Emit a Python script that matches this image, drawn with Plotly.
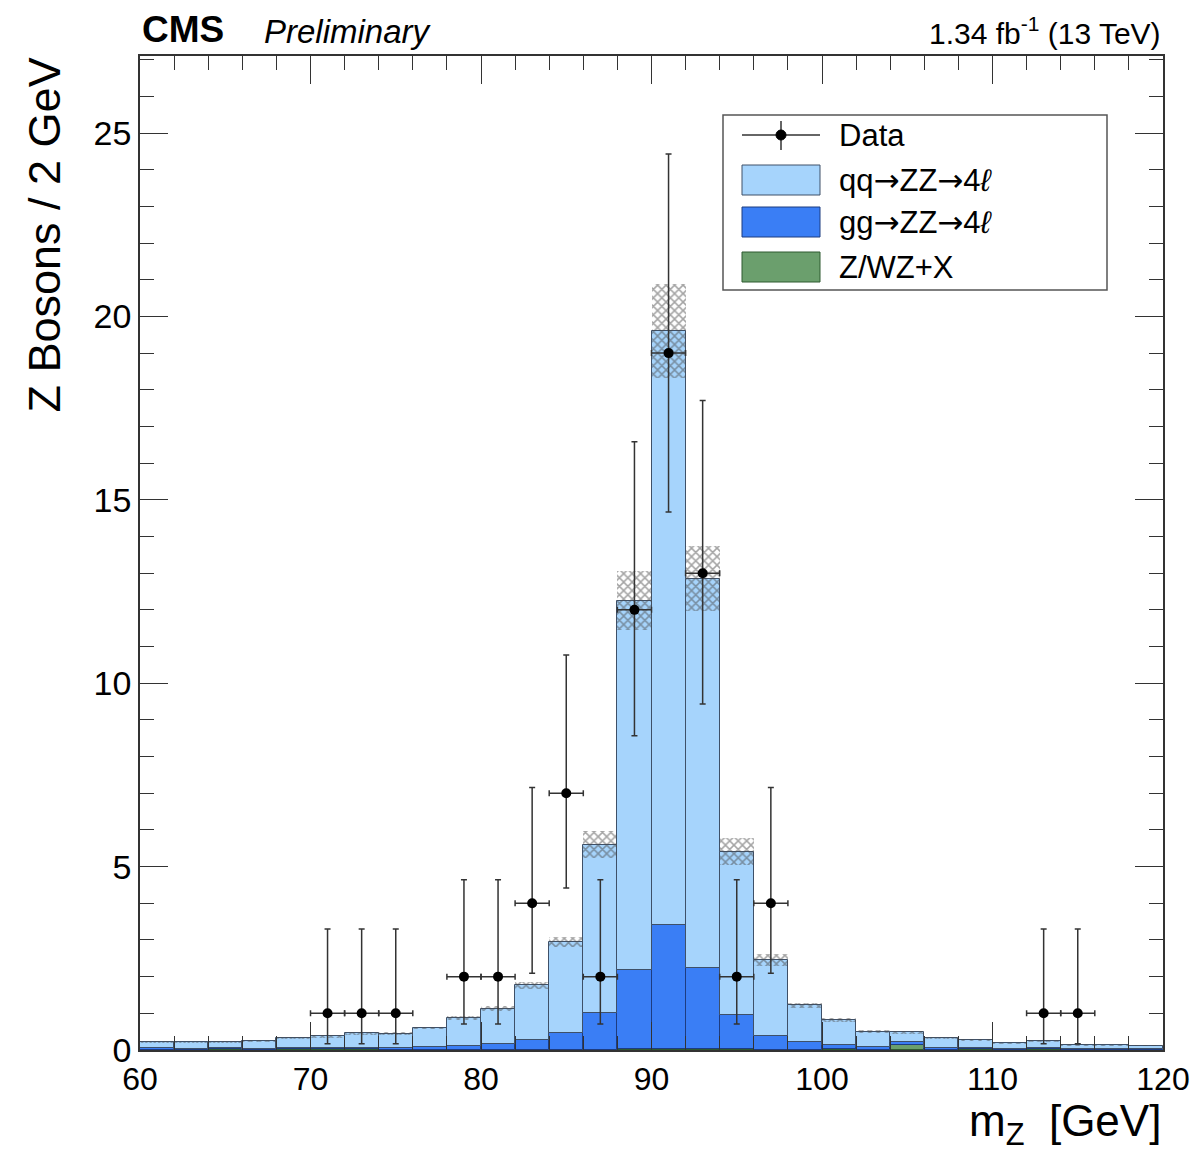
import numpy as np
import plotly.graph_objects as go

# bin centres of the 2 GeV bins (m_Z, GeV)
bin_centres = [61, 63, 65, 67, 69, 71, 73, 75, 77, 79, 81, 83, 85, 87, 89,
               91, 93, 95, 97, 99, 101, 103, 105, 107, 109, 111, 113, 115, 117, 119]

# stack contributions per bin
zx_vals = [0.01, 0.00, 0.02, 0.00, 0.03, 0.03, 0.03, 0.00, 0.01, 0.01, 0.01, 0.01, 0.01, 0.01, 0.02,
           0.02, 0.02, 0.03, 0.01, 0.01, 0.02, 0.01, 0.13, 0.01, 0.02, 0.01, 0.03, 0.01, 0.01, 0.01]
gg_vals = [0.04, 0.04, 0.03, 0.03, 0.02, 0.03, 0.03, 0.05, 0.06, 0.09, 0.16, 0.27, 0.45, 0.99, 2.15,
           3.40, 2.22, 0.93, 0.37, 0.20, 0.12, 0.06, 0.08, 0.04, 0.04, 0.02, 0.02, 0.02, 0.02, 0.02]
qq_vals = [0.17, 0.17, 0.17, 0.21, 0.28, 0.31, 0.40, 0.39, 0.53, 0.77, 0.95, 1.48, 2.49, 4.60, 10.08,
           16.18, 10.61, 4.45, 2.07, 1.01, 0.68, 0.43, 0.27, 0.27, 0.21, 0.15, 0.20, 0.11, 0.10, 0.09]
# half width of the hatched uncertainty band
unc_vals = [0.02, 0.02, 0.02, 0.02, 0.03, 0.03, 0.04, 0.04, 0.04, 0.05, 0.07, 0.09, 0.14, 0.37, 0.80,
            1.28, 0.88, 0.36, 0.16, 0.07, 0.05, 0.04, 0.04, 0.03, 0.03, 0.02, 0.02, 0.02, 0.02, 0.02]

# data points
data_x = [71, 73, 75, 79, 81, 83, 85, 87, 89, 91, 93, 95, 97, 113, 115]
data_y = [1, 1, 1, 2, 2, 4, 7, 2, 12, 19, 13, 2, 4, 1, 1]
data_err_up = [2.30, 2.30, 2.30, 2.64, 2.64, 3.16, 3.77, 2.64, 4.58, 5.43, 4.71, 2.64, 3.16, 2.30, 2.30]
data_err_lo = [0.83, 0.83, 0.83, 1.29, 1.29, 1.91, 2.58, 1.29, 3.43, 4.33, 3.57, 1.29, 1.91, 0.83, 0.83]

C_QQ = "#a6d4fc"
C_GG = "#3a7ef5"
C_ZX = "#6b9f6d"
FONT = "Liberation Sans"

zx = np.array(zx_vals)
gg = np.array(gg_vals)
qq = np.array(qq_vals)
unc = np.array(unc_vals)
total = zx + gg + qq

fig = go.Figure()

fig.add_trace(go.Bar(x=bin_centres, y=zx, base=0, width=2,
                     marker=dict(color=C_ZX, line=dict(color="#2f5a30", width=1))))
fig.add_trace(go.Bar(x=bin_centres, y=gg, base=zx, width=2,
                     marker=dict(color=C_GG, line=dict(color="#1d3c80", width=1))))
fig.add_trace(go.Bar(x=bin_centres, y=qq, base=zx + gg, width=2,
                     marker=dict(color=C_QQ, line=dict(color="#3e5068", width=1))))
# hatched uncertainty on the total
fig.add_trace(go.Bar(x=bin_centres, y=2 * unc, base=total - unc, width=2,
                     marker=dict(color="rgba(0,0,0,0)", line=dict(width=0),
                                 pattern=dict(shape="x", fgcolor="#4a4a4a", size=6,
                                              solidity=0.45, fillmode="overlay"))))

fig.add_trace(go.Scatter(
    x=data_x, y=data_y, mode="markers",
    marker=dict(color="black", size=10),
    error_y=dict(type="data", symmetric=False, array=data_err_up, arrayminus=data_err_lo,
                 color="#333333", thickness=1.5, width=3),
    error_x=dict(type="constant", value=1, color="#333333", thickness=1.5, width=3),
))

# manual ROOT-style legend (positions in window pixels -> paper coords)
def px(X):
    return (X - 140) / 1023


def py(Y):
    return (1050 - Y) / 994


ARROW = "<span style='font-family:DejaVu Sans'>→</span>"
ELL = "<i>ℓ</i>"

shapes = [dict(type="rect", xref="paper", yref="paper", x0=px(723), x1=px(1107),
               y0=py(290), y1=py(115), line=dict(color="#555555", width=1.5),
               fillcolor="white", layer="above")]
legend_rows = [("qq" + ARROW + "ZZ" + ARROW + "4" + ELL, C_QQ, "#3e5068", 180),
               ("gg" + ARROW + "ZZ" + ARROW + "4" + ELL, C_GG, "#1d3c80", 222),
               ("Z/WZ+X", C_ZX, "#2f5a30", 267)]
annotations = []
for label, col, lcol, yc in legend_rows:
    shapes.append(dict(type="rect", xref="paper", yref="paper", x0=px(742), x1=px(820),
                       y0=py(yc + 15), y1=py(yc - 15), fillcolor=col,
                       line=dict(color=lcol, width=1), layer="above"))
    annotations.append(dict(text=label, xref="paper", yref="paper", x=px(837), y=py(yc),
                            xanchor="left", yanchor="middle", showarrow=False,
                            font=dict(family=FONT, size=31, color="black")))
shapes.append(dict(type="line", xref="paper", yref="paper", x0=px(742), x1=px(820),
                   y0=py(135), y1=py(135), line=dict(color="#333333", width=1.5), layer="above"))
shapes.append(dict(type="line", xref="paper", yref="paper", x0=px(781), x1=px(781),
                   y0=py(150), y1=py(121), line=dict(color="#333333", width=1.5), layer="above"))
shapes.append(dict(type="circle", xref="paper", yref="paper", x0=px(776), x1=px(786),
                   y0=py(140), y1=py(130), fillcolor="black", line=dict(color="black", width=1),
                   layer="above"))
annotations.append(dict(text="Data", xref="paper", yref="paper", x=px(837), y=py(135),
                        xanchor="left", yanchor="middle", showarrow=False,
                        font=dict(family=FONT, size=31, color="black")))

# header texts and axis titles
annotations += [
    dict(text="<b>CMS</b>", xref="paper", yref="paper", x=0, y=1, yshift=4,
         xanchor="left", yanchor="bottom", showarrow=False,
         font=dict(family=FONT, size=37, color="black")),
    dict(text="<i>Preliminary</i>", xref="paper", yref="paper", x=px(262), y=1, yshift=4,
         xanchor="left", yanchor="bottom", showarrow=False,
         font=dict(family=FONT, size=33, color="black")),
    dict(text="1.34 fb<sup>-1</sup> (13 TeV)", xref="paper", yref="paper", x=1, y=1, yshift=4,
         xanchor="right", yanchor="bottom", showarrow=False,
         font=dict(family=FONT, size=30, color="black")),
    dict(text="Z Bosons / 2 GeV", xref="paper", yref="paper", x=px(44), y=1,
         xanchor="center", yanchor="top", textangle=-90, showarrow=False,
         font=dict(family=FONT, size=45, color="black")),
    dict(text="m<sub>Z</sub>\u00a0 [GeV]", xref="paper", yref="paper", x=1, y=py(1124),
         xanchor="right", yanchor="middle", showarrow=False,
         font=dict(family=FONT, size=44, color="black")),
]

# the page body adds 8px on every side, so the figure is 16px smaller than the window
fig.update_layout(
    width=1182, height=1143,
    margin=dict(l=132, r=27, t=48, b=101),
    paper_bgcolor="white", plot_bgcolor="white",
    barmode="overlay", bargap=0, showlegend=False,
    shapes=shapes, annotations=annotations,
    font=dict(family=FONT, color="black"),
)
fig.update_xaxes(range=[60, 120], dtick=10, tick0=60, ticks="inside", ticklen=28, tickwidth=1,
                 tickcolor="#333333", minor=dict(dtick=2, ticklen=14, ticks="inside", tickcolor="#333333"),
                 showline=True, linecolor="#333333", linewidth=1.5, mirror="ticks",
                 automargin=False, ticklabeloverflow="allow",
                 showgrid=False, zeroline=False, tickfont=dict(family=FONT, size=32, color="black"))
fig.update_yaxes(range=[0, 27.1], dtick=5, tick0=0, ticks="inside", ticklen=28, tickwidth=1,
                 tickcolor="#333333", minor=dict(dtick=1, ticklen=14, ticks="inside", tickcolor="#333333"),
                 showline=True, linecolor="#333333", linewidth=1.5, mirror="ticks",
                 automargin=False,
                 showgrid=False, zeroline=False, tickfont=dict(family=FONT, size=34, color="black"))

fig.write_html("out.html")
